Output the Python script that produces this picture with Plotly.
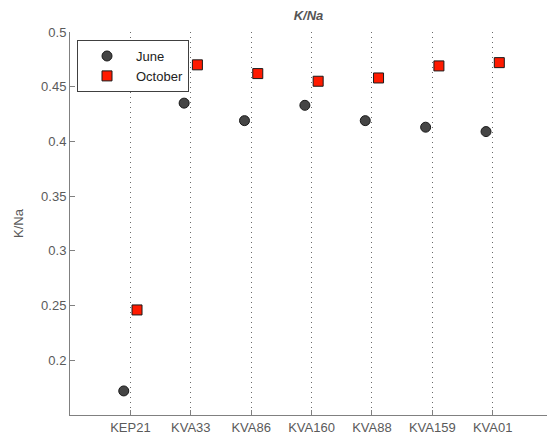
import plotly.graph_objects as go

# Sampling sites and K/Na ratios for the two campaigns
sites = ["KEP21", "KVA33", "KVA86", "KVA160", "KVA88", "KVA159", "KVA01"]
june = [0.172, 0.435, 0.419, 0.433, 0.419, 0.413, 0.409]
october = [0.246, 0.470, 0.462, 0.455, 0.458, 0.469, 0.472]

y_ticks = [0.2, 0.25, 0.3, 0.35, 0.4, 0.45, 0.5]
y_tick_text = ["0.2", "0.25", "0.3", "0.35", "0.4", "0.45", "0.5"]

positions = list(range(1, len(sites) + 1))
shift = 0.11

fig = go.Figure()
fig.add_trace(go.Scatter(
    x=[p - shift for p in positions], y=june, mode="markers", name="June",
    marker=dict(symbol="circle", size=10, color="#454545",
                line=dict(color="#1a1a1a", width=1)),
))
fig.add_trace(go.Scatter(
    x=[p + shift for p in positions], y=october, mode="markers", name="October",
    marker=dict(symbol="square", size=10, color="#ff1a00",
                line=dict(color="#1a1a1a", width=1)),
))

axis_col = "#808080"
text_col = "#5a5a5a"
font_family = "Liberation Sans, Arial, sans-serif"

fig.update_layout(
    width=547, height=439,
    margin=dict(l=70, r=0, t=32, b=24),
    paper_bgcolor="white", plot_bgcolor="white",
    font=dict(family=font_family, size=13, color=text_col),
    title=dict(text="<b><i>K/Na</i></b>", x=0.564, xanchor="center",
               y=0.965, yanchor="middle",
               font=dict(family=font_family, size=13, color="#555555")),
    showlegend=True,
    legend=dict(x=0.0147, y=0.979, xanchor="left", yanchor="top",
                bgcolor="white", bordercolor="#404040", borderwidth=1,
                font=dict(family=font_family, size=13, color="#222222"),
                itemwidth=48, entrywidth=112, tracegroupgap=2),
    xaxis=dict(
        range=[0, 7.9], tickvals=positions, ticktext=sites,
        showline=True, linecolor=axis_col, linewidth=1,
        ticks="inside", ticklen=5, tickcolor=axis_col,
        showgrid=True, gridcolor="#6a6a6a", gridwidth=1, griddash="1px,4px",
        zeroline=False, mirror=False,
        tickfont=dict(color=text_col, size=13),
    ),
    yaxis=dict(
        range=[0.15, 0.5], tickvals=y_ticks, ticktext=y_tick_text,
        showline=True, linecolor=axis_col, linewidth=1,
        ticks="inside", ticklen=5, tickcolor=axis_col,
        showgrid=False, zeroline=False, mirror=False,
        title=dict(text="K/Na", standoff=14, font=dict(color=text_col, size=13)),
        tickfont=dict(color=text_col, size=13),
    ),
)

fig.write_html("out.html")
